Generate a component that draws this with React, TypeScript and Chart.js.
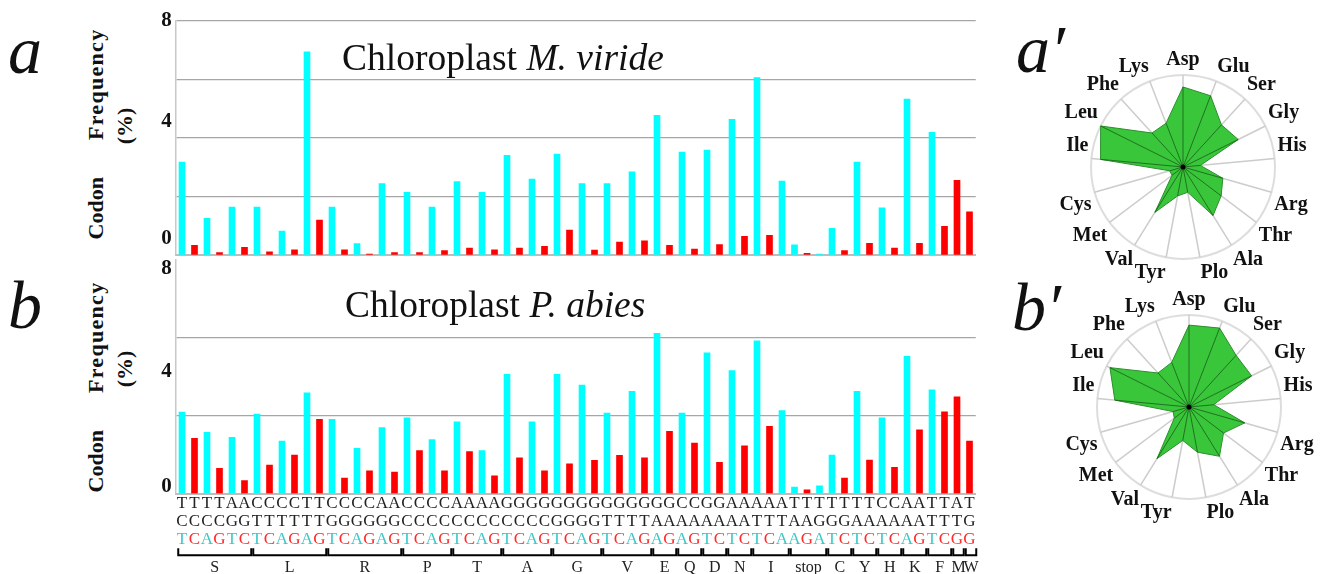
import React, { useEffect, useRef } from "react";
import { Chart, registerables } from "chart.js";

Chart.register(...registerables);

// ---------- DATA ----------
const codons = [
  "TCT", "TCC", "TCA", "TCG", "AGT", "AGC",
  "CTT", "CTC", "CTA", "CTG", "TTA", "TTG",
  "CGT", "CGC", "CGA", "CGG", "AGA", "AGG",
  "CCT", "CCC", "CCA", "CCG",
  "ACT", "ACC", "ACA", "ACG",
  "GCT", "GCC", "GCA", "GCG",
  "GGT", "GGC", "GGA", "GGG",
  "GTT", "GTC", "GTA", "GTG",
  "GAA", "GAG",
  "CAA", "CAG",
  "GAT", "GAC",
  "AAT", "AAC",
  "ATT", "ATC", "ATA",
  "TAA", "TAG", "TGA",
  "TGT", "TGC",
  "TAT", "TAC",
  "CAT", "CAC",
  "AAA", "AAG",
  "TTT", "TTC",
  "ATG",
  "TGG",
];

const aminoGroups = ["S", "L", "R", "P", "T", "A", "G", "V", "E", "Q", "D", "N", "I", "stop", "C", "Y", "H", "K", "F", "M", "W"];
const groupSizes = [6, 6, 6, 4, 4, 4, 4, 4, 2, 2, 2, 2, 3, 3, 2, 2, 2, 2, 2, 1, 1];

const virideFreq = [
  3.17, 0.33, 1.25, 0.08, 1.64, 0.26,
  1.64, 0.11, 0.82, 0.18, 6.94, 1.19,
  1.64, 0.18, 0.39, 0.03, 2.44, 0.08,
  2.14, 0.08, 1.64, 0.15,
  2.51, 0.24, 2.14, 0.18,
  3.40, 0.24, 2.59, 0.30,
  3.45, 0.85, 2.44, 0.17,
  2.44, 0.44, 2.84, 0.48,
  4.77, 0.33,
  3.51, 0.20,
  3.58, 0.36,
  4.63, 0.64,
  6.06, 0.67, 2.52,
  0.35, 0.06, 0.03,
  0.91, 0.15,
  3.17, 0.40,
  1.61, 0.24,
  5.32, 0.40,
  4.19, 0.98,
  2.55,
  1.47,
];

const abiesFreq = [
  2.79, 1.89, 2.10, 0.87, 1.93, 0.45,
  2.72, 0.98, 1.80, 1.32, 3.45, 2.54,
  2.54, 0.53, 1.55, 0.78, 2.26, 0.74,
  2.59, 1.47, 1.85, 0.78,
  2.46, 1.44, 1.47, 0.61,
  4.08, 1.23, 2.46, 0.78,
  4.08, 1.02, 3.71, 1.14,
  2.76, 1.31, 3.50, 1.23,
  5.48, 2.13,
  2.76, 1.73,
  4.82, 1.07,
  4.21, 1.64,
  5.23, 2.30, 2.84,
  0.23, 0.13, 0.27,
  1.32, 0.53,
  3.50, 1.15,
  2.59, 0.90,
  4.70, 2.18,
  3.55, 2.80,
  3.31,
  1.80,
];

const yTickLabels = [8, 4, 0];
const gridTicksA = [0, 2, 4, 6, 8];
const gridTicksB = [0, 8 / 3, 16 / 3, 8];

const radarAxes = ["Asp", "Glu", "Ser", "Gly", "His", "Arg", "Thr", "Ala", "Plo", "Tyr", "Val", "Met", "Cys", "Ile", "Leu", "Phe", "Lys"];
const virideRadar = [0.87, 0.83, 0.62, 0.67, 0.19, 0.45, 0.52, 0.62, 0.28, 0.32, 0.58, 0.15, 0.15, 0.9, 1.0, 0.5, 0.51];
const abiesRadar = [0.89, 0.92, 0.76, 0.76, 0.27, 0.63, 0.47, 0.63, 0.5, 0.37, 0.66, 0.2, 0.18, 0.81, 0.96, 0.5, 0.52];

// ---------- STYLE ----------
const SERIF = '"Liberation Serif", "DejaVu Serif", serif';
const CYAN = "#00ffff";
const RED = "#ff0000";
const TEXT_CYAN = "#3cc8c8";
const TEXT_RED = "#ff2a2a";
const isATEnding = (c: string) => c[2] === "A" || c[2] === "T";
const barColors = codons.map((c) => (isATEnding(c) ? CYAN : RED));

type Box = { left: number; top: number; width: number; height: number };

function makePanelPlugin(tickShift: number[], showCodons: boolean) {
  return {
    id: "panelText",
    afterDraw(chart: any) {
      const { ctx, chartArea, scales } = chart;
      const y = scales.y;
      const x = scales.x;
      ctx.save();
      ctx.fillStyle = "#111";
      ctx.font = `bold 21px ${SERIF}`;
      ctx.textAlign = "right";
      ctx.textBaseline = "middle";
      yTickLabels.forEach((v, i) => {
        ctx.fillText(String(v), chartArea.left - 4, y.getPixelForValue(v) + tickShift[i]);
      });
      if (showCodons) {
        const step = x.getPixelForValue(1) - x.getPixelForValue(0);
        const base = chartArea.bottom;
        ctx.textAlign = "center";
        ctx.font = `17px ${SERIF}`;
        codons.forEach((c, i) => {
          const px = x.getPixelForValue(i);
          ctx.fillStyle = "#222";
          ctx.fillText(c[0], px, base + 10);
          ctx.fillText(c[1], px, base + 27.5);
          ctx.fillStyle = isATEnding(c) ? TEXT_CYAN : TEXT_RED;
          ctx.fillText(c[2], px, base + 45.5);
        });
        let start = 0;
        ctx.strokeStyle = "#000";
        ctx.lineWidth = 2;
        aminoGroups.forEach((g, gi) => {
          const end = start + groupSizes[gi] - 1;
          const x0 = x.getPixelForValue(start) - step / 2 + 2.5;
          const x1 = x.getPixelForValue(end) + step / 2 + 0.5;
          ctx.beginPath();
          ctx.moveTo(x0, base + 54.5);
          ctx.lineTo(x0, base + 61.5);
          ctx.lineTo(x1, base + 61.5);
          ctx.lineTo(x1, base + 54.5);
          ctx.stroke();
          ctx.fillStyle = "#222";
          ctx.font = `16px ${SERIF}`;
          ctx.fillText(g, (x0 + x1) / 2, base + 74);
          start = end + 1;
        });
      }
      ctx.restore();
    },
  };
}

function BarPanel(props: {
  values: number[];
  gridTicks: number[];
  hiddenGrid: number[];
  tickShift: number[];
  showCodons: boolean;
  box: Box;
  padding: { left: number; right: number; top: number; bottom: number };
}) {
  const ref = useRef<HTMLCanvasElement | null>(null);
  useEffect(() => {
    const canvas = ref.current;
    if (!canvas) return;
    const chart = new Chart(canvas, {
      type: "bar",
      data: {
        labels: codons,
        datasets: [
          {
            data: props.values,
            backgroundColor: barColors,
            borderWidth: 0,
            barThickness: 6,
          },
        ],
      },
      options: {
        animation: false,
        responsive: false,
        layout: { padding: props.padding },
        plugins: { legend: { display: false }, tooltip: { enabled: false }, title: { display: false } },
        scales: {
          x: {
            grid: { display: false, drawTicks: false },
            ticks: { display: false },
            border: { display: true, color: "#bdbdbd", width: 2 },
          },
          y: {
            min: 0,
            max: 8,
            afterBuildTicks: (scale: any) => {
              scale.ticks = props.gridTicks.map((v) => ({ value: v }));
            },
            ticks: { display: false },
            grid: {
              drawTicks: false,
              color: (c: any) =>
                props.hiddenGrid.some((h) => Math.abs(h - c.tick.value) < 1e-6) ? "rgba(0,0,0,0)" : "#a6a6a6",
              lineWidth: 1.2,
            },
            border: { display: true, color: "#c8c8c8", width: 1.5 },
          },
        },
      },
      plugins: [makePanelPlugin(props.tickShift, props.showCodons)],
    } as any);
    return () => chart.destroy();
  }, []);
  const b = props.box;
  return (
    <canvas
      ref={ref}
      width={b.width}
      height={b.height}
      style={{ position: "absolute", left: b.left, top: b.top, width: b.width, height: b.height }}
    />
  );
}

const radarSpokesPlugin = {
  id: "radarSpokes",
  afterDatasetsDraw(chart: any) {
    const r = chart.scales.r;
    const data = chart.data.datasets[0].data as number[];
    const ctx = chart.ctx;
    ctx.save();
    ctx.strokeStyle = "rgba(25,95,25,0.8)";
    ctx.lineWidth = 1;
    data.forEach((v, i) => {
      const p = r.getPointPositionForValue(i, v);
      ctx.beginPath();
      ctx.moveTo(r.xCenter, r.yCenter);
      ctx.lineTo(p.x, p.y);
      ctx.stroke();
    });
    ctx.fillStyle = "#000";
    ctx.beginPath();
    ctx.arc(r.xCenter, r.yCenter, 2.5, 0, Math.PI * 2);
    ctx.fill();
    ctx.restore();
  },
};

function RadarPanel(props: { values: number[]; box: Box }) {
  const ref = useRef<HTMLCanvasElement | null>(null);
  useEffect(() => {
    const canvas = ref.current;
    if (!canvas) return;
    const chart = new Chart(canvas, {
      type: "radar",
      data: {
        labels: radarAxes,
        datasets: [
          {
            data: props.values,
            backgroundColor: "rgba(52,196,52,0.97)",
            borderColor: "#2b8f2b",
            borderWidth: 1,
            pointRadius: 0,
            fill: true,
          },
        ],
      },
      options: {
        animation: false,
        responsive: false,
        layout: { padding: 13 },
        plugins: { legend: { display: false }, tooltip: { enabled: false } },
        scales: {
          r: {
            min: 0,
            max: 1,
            ticks: { display: false, stepSize: 1 },
            grid: { circular: true, color: "#dddddd", lineWidth: 2 },
            angleLines: { color: "#cccccc", lineWidth: 1.5 },
            pointLabels: {
              color: "#111",
              padding: 3,
              font: { family: SERIF, size: 20, weight: "bold" },
            },
          },
        },
      },
      plugins: [radarSpokesPlugin],
    } as any);
    return () => chart.destroy();
  }, []);
  const b = props.box;
  return (
    <canvas
      ref={ref}
      width={b.width}
      height={b.height}
      style={{ position: "absolute", left: b.left, top: b.top, width: b.width, height: b.height }}
    />
  );
}

const abs = (left: number, top: number): React.CSSProperties => ({ position: "absolute", left, top, whiteSpace: "nowrap" });

function YTitle(props: { cx: number; cy: number; text: React.ReactNode }) {
  return (
    <div
      style={{
        position: "absolute",
        left: props.cx,
        top: props.cy,
        transform: "translate(-50%, -50%) rotate(-90deg)",
        font: `bold 22px ${SERIF}`,
        lineHeight: "22px",
        whiteSpace: "nowrap",
        color: "#111",
      }}
    >
      {props.text}
    </div>
  );
}

const codonFreqTitle = (
  <span>
    Codon<span style={{ marginLeft: 37, letterSpacing: 1.3 }}>Frequency</span>
  </span>
);

export default function App() {
  const letterStyle: React.CSSProperties = { font: `italic 68px ${SERIF}`, lineHeight: "68px", color: "#111" };
  const titleStyle: React.CSSProperties = { font: `37.5px ${SERIF}`, lineHeight: "36px", color: "#111" };
  return (
    <div style={{ position: "absolute", left: 0, top: 0, width: 1324, height: 574, background: "#fff", overflow: "hidden" }}>
      <BarPanel
        values={virideFreq}
        gridTicks={gridTicksA}
        hiddenGrid={[0]}
        tickShift={[0, -16, -16]}
        showCodons={false}
        box={{ left: 160, top: 10, width: 830, height: 256 }}
        padding={{ left: 15.75, right: 14.25, top: 10.7, bottom: 11 }}
      />
      <BarPanel
        values={abiesFreq}
        gridTicks={gridTicksB}
        hiddenGrid={[0, 8]}
        tickShift={[9, -4.7, -7]}
        showCodons={true}
        box={{ left: 160, top: 250, width: 830, height: 324 }}
        padding={{ left: 15.75, right: 14.25, top: 9.7, bottom: 80.3 }}
      />
      <div style={{ ...abs(342, 40), ...titleStyle }}>
        Chloroplast <i>M. viride</i>
      </div>
      <div style={{ ...abs(345, 287), ...titleStyle }}>
        Chloroplast <i>P. abies</i>
      </div>
      <YTitle cx={96} cy={134} text={codonFreqTitle} />
      <YTitle cx={125} cy={126} text="(%)" />
      <YTitle cx={96} cy={387} text={codonFreqTitle} />
      <YTitle cx={125} cy={369} text="(%)" />
      <div style={{ ...abs(8, 16), ...letterStyle }}>a</div>
      <div style={{ ...abs(8, 271), ...letterStyle }}>b</div>
      <div style={{ ...abs(1016, 15), ...letterStyle }}>a′</div>
      <div style={{ ...abs(1012, 273), ...letterStyle }}>b′</div>
      <RadarPanel values={virideRadar} box={{ left: 1034, top: 34, width: 300, height: 265 }} />
      <RadarPanel values={abiesRadar} box={{ left: 1040, top: 274, width: 300, height: 265 }} />
    </div>
  );
}
